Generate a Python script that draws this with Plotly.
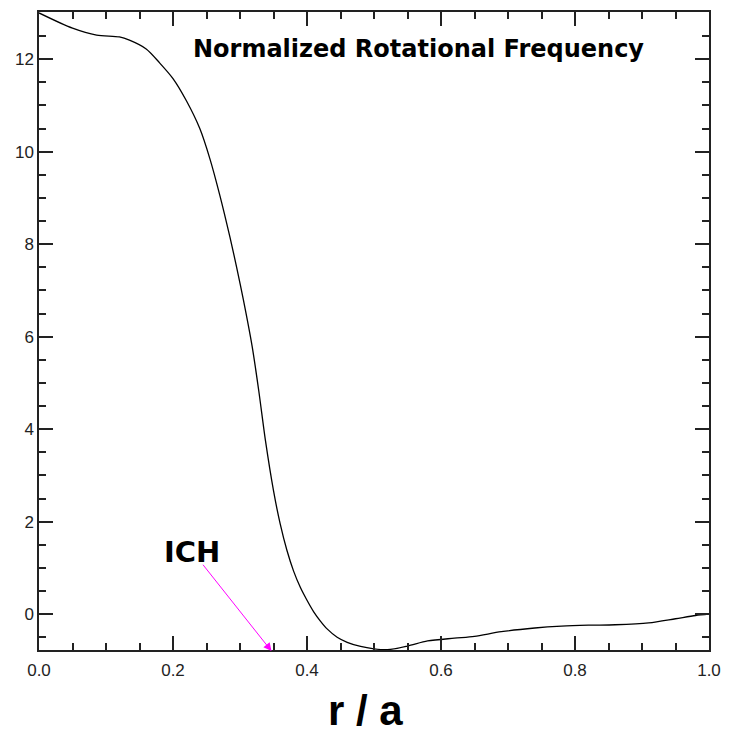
import plotly.graph_objects as go

# Data
r_over_a = [0.0, 0.05, 0.086, 0.12, 0.135, 0.16, 0.18, 0.2, 0.22, 0.24, 0.255, 0.27,
            0.285, 0.295, 0.305, 0.318, 0.328, 0.338, 0.35, 0.36, 0.37, 0.38, 0.39, 0.40,
            0.41, 0.42, 0.43, 0.445, 0.46, 0.48, 0.50, 0.52, 0.55, 0.58, 0.62, 0.65,
            0.69, 0.74, 0.78, 0.82, 0.86, 0.91, 0.95, 0.98, 1.0]
frequency = [13.0, 12.67, 12.52, 12.48, 12.41, 12.22, 11.92, 11.58, 11.1, 10.5, 9.85, 9.05,
             8.15, 7.5, 6.8, 5.8, 4.83, 3.75, 2.67, 1.95, 1.38, 0.93, 0.58, 0.30,
             0.05, -0.15, -0.32, -0.50, -0.61, -0.70, -0.75, -0.77, -0.69, -0.58, -0.52, -0.48,
             -0.38, -0.30, -0.26, -0.24, -0.23, -0.19, -0.10, -0.03, 0.0]

x_ticks = [0.0, 0.2, 0.4, 0.6, 0.8, 1.0]
x_tick_labels = ["0.0", "0.2", "0.4", "0.6", "0.8", "1.0"]
y_ticks = [0, 2, 4, 6, 8, 10, 12]
y_tick_labels = ["0", "2", "4", "6", "8", "10", "12"]

ich_tail = (0.243, 1.10)
ich_tip = (0.347, -0.80)

fig = go.Figure()
fig.add_trace(go.Scatter(x=r_over_a, y=frequency, mode="lines",
                         line=dict(color="black", width=1.3, shape="spline", smoothing=0.8),
                         showlegend=False, hoverinfo="skip"))

axis_common = dict(showgrid=False, zeroline=False, showline=True, linecolor="#222",
                   linewidth=1.5, ticks="inside", tickcolor="#222", tickwidth=1.5,
                   ticklen=14, mirror="allticks",
                   tickfont=dict(family="Liberation Sans, Arial, sans-serif", size=17, color="#222"))

fig.update_xaxes(range=[0, 1.0], tickvals=x_ticks, ticktext=x_tick_labels,
                 ticklabelstandoff=4,
                 minor=dict(dtick=0.05, ticks="inside", ticklen=7, tickcolor="#222", tickwidth=1.5),
                 **axis_common)
fig.update_yaxes(range=[-0.776, 13.02], tickvals=y_ticks, ticktext=y_tick_labels,
                 minor=dict(dtick=0.5, ticks="inside", ticklen=7, tickcolor="#222", tickwidth=1.5),
                 **axis_common)

# Arrow
fig.add_annotation(x=ich_tip[0], y=ich_tip[1], ax=ich_tail[0], ay=ich_tail[1],
                   xref="x", yref="y", axref="x", ayref="y", text="",
                   showarrow=True, arrowhead=2, arrowsize=1.6, arrowwidth=1,
                   arrowcolor="#FF00FF")
fig.add_annotation(x=0.229, y=1.10, xref="x", yref="y", text="<b>ICH</b>",
                   showarrow=False, xanchor="center", yanchor="bottom", yshift=-8,
                   font=dict(family="DejaVu Sans, sans-serif", size=29, color="black"))
fig.add_annotation(x=0.566, y=12.23, xref="x", yref="y",
                   text="<b>Normalized Rotational Frequency</b>", showarrow=False,
                   xanchor="center", yanchor="middle",
                   font=dict(family="DejaVu Sans, sans-serif", size=24, color="black"))
fig.add_annotation(x=0.487, y=-0.095, xref="x", yref="paper", text="<b>r / a</b>",
                   showarrow=False, xanchor="center", yanchor="middle",
                   font=dict(family="Liberation Sans, Arial, sans-serif", size=42, color="black"))

fig.update_layout(width=731, height=737, margin=dict(l=39, r=17, t=10, b=87),
                  paper_bgcolor="white", plot_bgcolor="white")

fig.write_html("out.html", config={"displayModeBar": False},
               post_script="document.body.style.margin='0';")
